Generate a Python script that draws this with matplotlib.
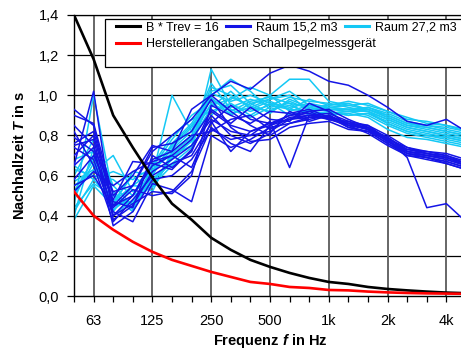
import numpy as np
import matplotlib
matplotlib.use("Agg")
import matplotlib.pyplot as plt
from matplotlib.lines import Line2D
from matplotlib.patches import Rectangle

plt.rcParams['font.family'] = ['Liberation Sans', 'DejaVu Sans']
plt.rcParams['mathtext.fontset'] = 'custom'
plt.rcParams['mathtext.it'] = 'Liberation Sans:italic:bold'
plt.rcParams['mathtext.rm'] = 'Liberation Sans:bold'

# Third-octave bands 50 Hz ... 5 kHz
bands = ["50", "63", "80", "100", "125", "160", "200", "250", "315", "400", "500",
         "630", "800", "1k", "1.25k", "1.6k", "2k", "2.5k", "3.15k", "4k", "5k"]
octave_labels = ["63", "125", "250", "500", "1k", "2k", "4k"]

b_trev_16 = [1.40, 1.18, 0.90, 0.74, 0.59, 0.46, 0.38, 0.29, 0.23, 0.18, 0.145,
             0.115, 0.09, 0.07, 0.06, 0.045, 0.035, 0.028, 0.022, 0.017, 0.014]
hersteller = [0.52, 0.40, 0.33, 0.27, 0.22, 0.18, 0.15, 0.12, 0.095, 0.07, 0.06,
              0.045, 0.04, 0.03, 0.028, 0.022, 0.018, 0.015, 0.013, 0.012, 0.011]

raum_15 = [
    [0.93, 0.85, 0.45, 0.55, 0.72, 0.80, 0.88, 1.00, 1.07, 1.03, 1.11, 1.15, 1.12, 1.07, 1.05, 1.00, 0.94, 0.87, 0.85, 0.88, 0.82],
    [0.75, 0.78, 0.40, 0.50, 0.65, 0.70, 0.78, 0.92, 0.85, 0.82, 0.86, 0.88, 0.90, 0.89, 0.86, 0.85, 0.78, 0.69, 0.44, 0.46, 0.37],
    [0.65, 1.02, 0.38, 0.45, 0.62, 0.68, 0.75, 0.88, 0.82, 0.80, 0.87, 0.64, 0.90, 0.88, 0.85, 0.84, 0.77, 0.73, 0.71, 0.69, 0.66],
    [0.90, 0.86, 0.50, 0.60, 0.75, 0.72, 0.93, 1.00, 0.92, 0.85, 0.80, 0.86, 0.88, 0.90, 0.86, 0.83, 0.79, 0.72, 0.70, 0.68, 0.65],
    [0.85, 0.75, 0.35, 0.42, 0.58, 0.60, 0.68, 0.83, 0.78, 0.80, 0.82, 0.88, 0.92, 0.93, 0.88, 0.84, 0.78, 0.74, 0.71, 0.70, 0.66],
    [0.79, 0.72, 0.42, 0.37, 0.56, 0.53, 0.47, 0.80, 0.74, 0.78, 0.84, 0.86, 0.89, 0.90, 0.84, 0.82, 0.76, 0.71, 0.69, 0.67, 0.64],
    [0.52, 0.62, 0.55, 0.62, 0.67, 0.70, 0.64, 0.87, 0.72, 0.82, 0.85, 0.90, 0.91, 0.88, 0.87, 0.83, 0.77, 0.72, 0.70, 0.68, 0.65],
    [0.58, 0.70, 0.48, 0.67, 0.66, 0.63, 0.73, 0.90, 0.80, 0.76, 0.81, 0.92, 0.87, 0.90, 0.85, 0.81, 0.75, 0.70, 0.68, 0.66, 0.63],
    [0.70, 0.80, 0.45, 0.50, 0.68, 0.72, 0.80, 0.82, 0.88, 0.90, 0.83, 0.89, 0.90, 0.91, 0.87, 0.85, 0.80, 0.74, 0.72, 0.70, 0.67],
    [0.74, 0.68, 0.40, 0.46, 0.52, 0.51, 0.60, 0.95, 0.90, 0.86, 0.92, 0.91, 0.93, 0.89, 0.84, 0.82, 0.78, 0.71, 0.70, 0.69, 0.65],
    [0.65, 0.74, 0.52, 0.55, 0.74, 0.76, 0.82, 0.98, 0.84, 0.77, 0.78, 0.84, 0.86, 0.87, 0.83, 0.82, 0.76, 0.70, 0.69, 0.67, 0.64],
    [0.82, 0.65, 0.37, 0.48, 0.60, 0.66, 0.70, 0.86, 0.95, 0.88, 0.86, 0.90, 0.92, 0.88, 0.86, 0.84, 0.79, 0.73, 0.72, 0.71, 0.68],
    [0.55, 0.60, 0.44, 0.53, 0.50, 0.52, 0.62, 0.84, 0.76, 0.72, 0.85, 0.88, 0.89, 0.89, 0.86, 0.83, 0.77, 0.71, 0.69, 0.66, 0.63],
    [0.76, 0.82, 0.47, 0.44, 0.70, 0.64, 0.72, 0.93, 0.86, 0.94, 0.88, 0.87, 0.96, 0.92, 0.85, 0.83, 0.79, 0.72, 0.71, 0.69, 0.66],
]

raum_27 = [
    [0.38, 0.55, 0.45, 0.47, 0.55, 0.65, 0.72, 1.13, 0.95, 0.92, 0.95, 0.93, 0.92, 0.94, 0.93, 0.92, 0.88, 0.84, 0.82, 0.80, 0.78],
    [0.45, 1.00, 0.50, 0.42, 0.60, 1.00, 0.82, 0.95, 0.98, 1.04, 1.00, 1.08, 1.08, 0.97, 0.95, 0.93, 0.90, 0.86, 0.84, 0.82, 0.80],
    [0.55, 0.62, 0.70, 0.52, 0.58, 0.68, 0.78, 1.02, 1.05, 0.96, 0.98, 1.02, 0.95, 0.93, 0.92, 0.94, 0.91, 0.87, 0.85, 0.84, 0.82],
    [0.68, 0.72, 0.42, 0.55, 0.62, 0.75, 0.85, 0.98, 0.92, 0.97, 0.99, 0.96, 0.94, 0.95, 0.96, 0.93, 0.89, 0.85, 0.83, 0.81, 0.79],
    [0.42, 0.58, 0.47, 0.60, 0.52, 0.72, 0.80, 1.04, 1.00, 0.94, 0.92, 0.97, 0.93, 0.92, 0.90, 0.91, 0.86, 0.82, 0.80, 0.78, 0.76],
    [0.60, 0.78, 0.55, 0.45, 0.65, 0.80, 0.88, 0.92, 0.96, 0.90, 0.96, 0.94, 0.96, 0.94, 0.95, 0.96, 0.92, 0.88, 0.87, 0.85, 0.83],
    [0.50, 0.66, 0.43, 0.50, 0.56, 0.70, 0.75, 1.00, 1.08, 1.02, 0.93, 0.95, 0.91, 0.91, 0.92, 0.90, 0.85, 0.81, 0.79, 0.77, 0.75],
    [0.65, 0.58, 0.62, 0.58, 0.64, 0.78, 0.90, 0.97, 0.94, 0.98, 0.95, 0.99, 0.97, 0.96, 0.94, 0.92, 0.88, 0.84, 0.82, 0.80, 0.78],
    [0.48, 0.70, 0.40, 0.48, 0.58, 0.66, 0.74, 0.90, 0.99, 0.95, 1.00, 0.92, 0.95, 0.93, 0.93, 0.94, 0.90, 0.86, 0.85, 0.83, 0.81],
    [0.57, 0.63, 0.52, 0.43, 0.62, 0.73, 0.82, 1.06, 0.93, 0.89, 0.94, 0.96, 0.90, 0.90, 0.91, 0.89, 0.83, 0.79, 0.78, 0.76, 0.74],
    [0.40, 0.74, 0.47, 0.55, 0.54, 0.69, 0.77, 0.94, 1.02, 0.93, 0.97, 0.93, 0.98, 0.95, 0.97, 0.95, 0.92, 0.89, 0.86, 0.85, 0.82],
    [0.63, 0.60, 0.58, 0.50, 0.66, 0.74, 0.84, 0.99, 0.90, 0.96, 0.91, 0.98, 0.94, 0.92, 0.90, 0.91, 0.87, 0.83, 0.81, 0.79, 0.77],
    [0.52, 0.68, 0.45, 0.62, 0.60, 0.76, 0.86, 1.01, 0.97, 1.00, 0.96, 0.90, 0.93, 0.94, 0.93, 0.93, 0.89, 0.85, 0.84, 0.82, 0.80],
    [0.44, 0.56, 0.50, 0.46, 0.63, 0.71, 0.79, 0.96, 0.91, 0.94, 0.98, 1.00, 0.92, 0.91, 0.92, 0.92, 0.86, 0.82, 0.80, 0.79, 0.77],
]

y_ticks = [0.0, 0.2, 0.4, 0.6, 0.8, 1.0, 1.2, 1.4]

DARK = '#1414E6'
LIGHT = '#14C8F5'

W, H = 461, 351
fig = plt.figure(figsize=(W / 100, H / 100), dpi=100)
ax = fig.add_axes([74 / W, 55 / H, 392 / W, 281 / H])

x = np.arange(len(bands))
oct_pos = [bands.index(l) for l in octave_labels]

# grid
for yv in y_ticks[1:]:
    ax.axhline(yv, color='black', lw=0.9, zorder=1)
for xv in oct_pos:
    ax.axvline(xv, color='#666666', lw=1.4, zorder=1)

for s in raum_27:
    ax.plot(x, s, color=LIGHT, lw=1.1, zorder=2)
for s in raum_15:
    ax.plot(x, s, color=DARK, lw=1.1, zorder=3)
ax.plot(x, b_trev_16, color='black', lw=1.9, zorder=4)
ax.plot(x, hersteller, color='#FF0000', lw=1.9, zorder=4)

ax.set_xlim(0, len(bands) - 1)
ax.set_ylim(0, 1.4)
ax.set_xticks(oct_pos)
ax.set_xticklabels(octave_labels, fontsize=10.5)
ax.set_xticks(x, minor=True)
ax.set_yticks(y_ticks)
ax.set_yticklabels([f"{v:.1f}".replace('.', ',') for v in y_ticks], fontsize=10.5)
ax.tick_params(axis='x', which='both', direction='out', length=4, width=0.9, pad=9, color='black')
ax.tick_params(axis='y', direction='out', length=5, width=0.9, pad=6, color='black')
ax.spines['right'].set_visible(False)
ax.spines['top'].set_linewidth(0.9)
ax.spines['left'].set_linewidth(1.0)
ax.spines['bottom'].set_linewidth(1.0)

ax.set_ylabel(r'Nachhallzeit $\mathit{T}$ in s', fontsize=10.5, fontweight='bold', labelpad=8)
ax.set_xlabel(r'Frequenz $\mathit{f}$ in Hz', fontsize=10.5, fontweight='bold', labelpad=3)

# legend frame
ax.add_patch(Rectangle((0.079, 0.815), 1.0, 0.172, transform=ax.transAxes,
                       facecolor='white', edgecolor='black', lw=0.9, zorder=5, clip_on=False))
h1 = [Line2D([], [], color='black', lw=2.2),
      Line2D([], [], color=DARK, lw=2.2),
      Line2D([], [], color=LIGHT, lw=2.2)]
leg1 = ax.legend(h1, ['B * Trev = 16', 'Raum 15,2 m3', 'Raum 27,2 m3'], ncol=3,
                 frameon=False, fontsize=9, handlelength=1.9, handletextpad=0.5,
                 columnspacing=0.6, loc='upper left', bbox_to_anchor=(0.098, 0.99),
                 borderaxespad=0, borderpad=0.3)
leg1.set_zorder(6)
ax.add_artist(leg1)
leg2 = ax.legend([Line2D([], [], color='#FF0000', lw=2.2)],
                 ['Herstellerangaben Schallpegelmessgerät'], frameon=False, fontsize=9,
                 handlelength=1.9, handletextpad=0.5, loc='upper left',
                 bbox_to_anchor=(0.098, 0.93), borderaxespad=0, borderpad=0.3)
leg2.set_zorder(6)

fig.savefig('out.png', dpi=100)
